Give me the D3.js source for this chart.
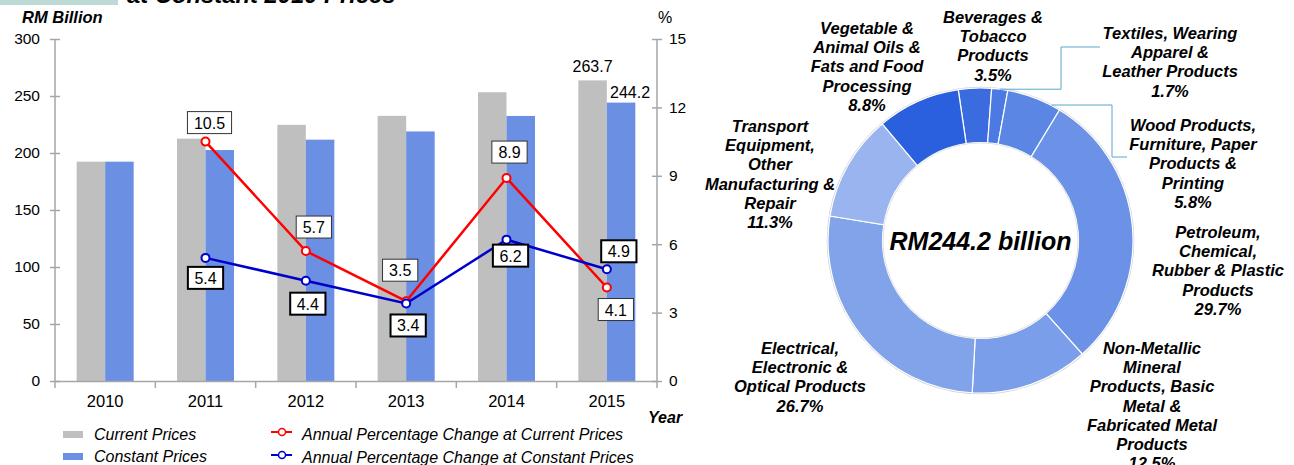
<!DOCTYPE html>
<html>
<head>
<meta charset="utf-8">
<script src="https://cdn.jsdelivr.net/npm/d3@7"></script>
<style>
  body { margin: 0; background: #fff; }
  text { font-family: "Liberation Sans", Arial, sans-serif; }
</style>
</head>
<body>
<script>
// ---- data ----
var years = ["2010", "2011", "2012", "2013", "2014", "2015"];
var currentPrices = [192.4, 212.6, 224.7, 232.6, 253.3, 263.7];
var constantPrices = [192.4, 202.6, 211.7, 218.9, 232.5, 244.2];
var pctCurrent = [null, 10.5, 5.7, 3.5, 8.9, 4.1];
var pctConstant = [null, 5.4, 4.4, 3.4, 6.2, 4.9];
var leftTicks = [0, 50, 100, 150, 200, 250, 300];
var rightTicks = [0, 3, 6, 9, 12, 15];

var sectors = [
  ["Beverages &", "Tobacco", "Products"],
  ["Textiles, Wearing", "Apparel &", "Leather Products"],
  ["Wood Products,", "Furniture, Paper", "Products &", "Printing"],
  ["Petroleum,", "Chemical,", "Rubber & Plastic", "Products"],
  ["Non-Metallic", "Mineral", "Products, Basic", "Metal &", "Fabricated Metal", "Products"],
  ["Electrical,", "Electronic &", "Optical Products"],
  ["Transport", "Equipment,", "Other", "Manufacturing &", "Repair"],
  ["Vegetable &", "Animal Oils &", "Fats and Food", "Processing"]
];
var shares = [3.5, 1.7, 5.8, 29.7, 12.5, 26.7, 11.3, 8.8];
var totalLabel = "RM244.2 billion";

// ---- layout / styles ----
var W = 1294, H = 465;
var grey = "#bfbfbf", blue = "#6a8fe3";
var axisCol = "#a6a6a6";
var fs = "16px";
var sliceCols = ["#3a6ce0", "#4c7ae2", "#5b86e4", "#6b92e6", "#7a9ee9", "#80a3ea", "#99b4ef", "#2a60dd"];
// label positions (center x, first line y)
var labelPos = [[993, 23], [1170, 39], [1193, 131], [1218, 238], [1152, 354], [800, 354], [770, 132], [867, 34]];
var lineH = 19.2;
// pct-label box offsets [dx, dy] from point
var curOff = [null, [4, -19], [8, -24], [-6, -31], [3, -26], [9, 22]];
var conOff = [null, [0, 20], [2, 23], [2, 22], [4, 16], [12, -18]];

var svg = d3.select("body").append("svg")
  .attr("width", W).attr("height", H);

// title fragment (cut at the top)
svg.append("rect").attr("x", 0).attr("y", -20).attr("width", 118).attr("height", 25).attr("fill", "#bddad4");
svg.append("text").attr("x", 127).attr("y", 3)
  .style("font-size", "23.8px").style("font-weight", "bold").style("font-style", "italic")
  .text("at Constant 2010 Prices");

// ---- bar chart ----
var m = {left: 55, right: 657, top: 39, bottom: 381};
var x = d3.scaleBand().domain(years).range([m.left, m.right]).padding(0);
var x1 = d3.scaleBand().domain(["cur", "con"]).range([0, x.bandwidth()]).paddingOuter(0.76).paddingInner(0);
var yL = d3.scaleLinear().domain([0, 300]).range([m.bottom, m.top]);
var yR = d3.scaleLinear().domain([0, 15]).range([m.bottom, m.top]);

var g = svg.append("g");

years.forEach(function(yr, i) {
  g.append("rect").attr("x", x(yr) + x1("cur")).attr("width", x1.bandwidth())
    .attr("y", yL(currentPrices[i])).attr("height", yL(0) - yL(currentPrices[i]))
    .attr("fill", grey);
  g.append("rect").attr("x", x(yr) + x1("con")).attr("width", x1.bandwidth())
    .attr("y", yL(constantPrices[i])).attr("height", yL(0) - yL(constantPrices[i]))
    .attr("fill", blue);
});

// value labels on 2015
var last = years.length - 1;
g.append("text").attr("x", x(years[last]) + x1("cur") + x1.bandwidth() / 2)
  .attr("y", yL(currentPrices[last]) - 8).attr("text-anchor", "middle")
  .style("font-size", fs).text(currentPrices[last].toFixed(1));
g.append("text").attr("x", x(years[last]) + x1("con") + x1.bandwidth() / 2 + 9)
  .attr("y", yL(constantPrices[last]) - 5).attr("text-anchor", "middle")
  .style("font-size", fs).text(constantPrices[last].toFixed(1));

// axes
var axL = d3.axisLeft(yL).tickValues(leftTicks).tickSize(5).tickPadding(10);
var gl = svg.append("g").attr("transform", "translate(" + m.left + ",0)").call(axL);
gl.selectAll(".tick line").attr("x1", -5).attr("x2", 5);
var axR = d3.axisRight(yR).tickValues(rightTicks).tickSize(5).tickPadding(7);
var gr = svg.append("g").attr("transform", "translate(" + m.right + ",0)").call(axR);
gr.selectAll(".tick line").attr("x1", -5).attr("x2", 5);
[gl, gr].forEach(function(a) {
  a.select(".domain").attr("stroke", axisCol).attr("stroke-width", 1.5).attr("d",
    "M0," + m.top + "V" + m.bottom);
  a.selectAll(".tick line").attr("stroke", axisCol).attr("stroke-width", 1.5);
  a.selectAll("text").style("font-size", "15.5px").attr("fill", "#000").style("font-family", "Liberation Sans, Arial, sans-serif");
});

var axB = d3.axisBottom(x).tickSize(0).tickPadding(14);
var gb = svg.append("g").attr("transform", "translate(0," + m.bottom + ")").call(axB);
gb.select(".domain").attr("stroke", axisCol).attr("stroke-width", 1.5);
gb.selectAll("text").style("font-size", "16.5px").attr("fill", "#000").style("font-family", "Liberation Sans, Arial, sans-serif");
years.concat([null]).forEach(function(yr) {
  var xx = yr ? x(yr) : x.range()[1];
  gb.append("line").attr("x1", xx).attr("x2", xx).attr("y1", 0).attr("y2", 7)
    .attr("stroke", axisCol).attr("stroke-width", 1.5);
});

svg.append("text").attr("x", 22).attr("y", 23)
  .style("font-size", "16.5px").style("font-weight", "bold").style("font-style", "italic").text("RM Billion");
svg.append("text").attr("x", 665).attr("y", 23).attr("text-anchor", "middle")
  .style("font-size", fs).text("%");
svg.append("text").attr("x", 648).attr("y", 423)
  .style("font-size", fs).style("font-weight", "bold").style("font-style", "italic").text("Year");

// lines
function drawLine(vals, col) {
  var pts = [];
  vals.forEach(function(v, i) { if (v != null) pts.push({x: x(years[i]) + x.bandwidth() / 2, v: v, i: i}); });
  var line = d3.line().x(function(d) { return d.x; }).y(function(d) { return yR(d.v); });
  g.append("path").datum(pts).attr("d", line).attr("fill", "none")
    .attr("stroke", col).attr("stroke-width", 2.5);
  g.selectAll(null).data(pts).enter().append("circle")
    .attr("cx", function(d) { return d.x; }).attr("cy", function(d) { return yR(d.v); })
    .attr("r", 4).attr("fill", "#fff").attr("stroke", col).attr("stroke-width", 2);
  return pts;
}
var redPts = drawLine(pctCurrent, "#ff0000");
var bluePts = drawLine(pctConstant, "#0000cc");

function drawBoxes(pts, offs, thick) {
  pts.forEach(function(d) {
    var cx = d.x + offs[d.i][0], cy = yR(d.v) + offs[d.i][1];
    var r = svg.append("rect");
    var t = svg.append("text").attr("x", cx).attr("y", cy + 6).attr("text-anchor", "middle")
      .style("font-size", fs).text(d.v.toFixed(1));
    var tw = t.node().getComputedTextLength() + 13;
    r.attr("x", cx - tw / 2).attr("y", cy - 11).attr("width", tw).attr("height", 22)
      .attr("fill", "#fff").attr("stroke", thick ? "#000" : "#333").attr("stroke-width", thick ? 2 : 1);
  });
}
drawBoxes(redPts, curOff, false);
drawBoxes(bluePts, conOff, true);

// legend
var lg = svg.append("g").style("font-size", fs).style("font-style", "italic");
lg.append("rect").attr("x", 63).attr("y", 431).attr("width", 20).attr("height", 7).attr("fill", grey);
lg.append("text").attr("x", 94).attr("y", 440).text("Current Prices");
lg.append("rect").attr("x", 63).attr("y", 453).attr("width", 20).attr("height", 7).attr("fill", blue);
lg.append("text").attr("x", 94).attr("y", 462).text("Constant Prices");
[["#ff0000", 432, "Annual Percentage Change at Current Prices"],
 ["#0000cc", 455, "Annual Percentage Change at Constant Prices"]].forEach(function(l) {
  lg.append("line").attr("x1", 271).attr("x2", 292).attr("y1", l[1]).attr("y2", l[1])
    .attr("stroke", l[0]).attr("stroke-width", 2);
  lg.append("circle").attr("cx", 282).attr("cy", l[1]).attr("r", 3.5)
    .attr("fill", "#fff").attr("stroke", l[0]).attr("stroke-width", 1.5);
  lg.append("text").attr("x", 302).attr("y", l[1] + 8).text(l[2]);
});

// ---- donut ----
var cx = 980.5, cy = 240.5, rOut = 152.5, rIn = 98;
var start = -8.4 * Math.PI / 180;
var pie = d3.pie().sort(null).value(function(d) { return d; })
  .startAngle(start).endAngle(start + 2 * Math.PI);
var arcs = pie(shares);
var arc = d3.arc().innerRadius(rIn).outerRadius(rOut);
var dg = svg.append("g").attr("transform", "translate(" + cx + "," + cy + ")");
dg.append("circle").attr("r", rOut + 0.5).attr("fill", "none").attr("stroke", "#cfcfcf").attr("stroke-width", 1.5);
dg.selectAll("path").data(arcs).enter().append("path")
  .attr("d", arc).attr("fill", function(d, i) { return sliceCols[i]; })
  .attr("stroke", "#fff").attr("stroke-width", 1.2);
dg.append("circle").attr("r", rIn - 0.5).attr("fill", "none").attr("stroke", "#e2e2e2").attr("stroke-width", 1);
dg.append("text").attr("x", 0).attr("y", 9).attr("text-anchor", "middle")
  .style("font-size", "25px").style("font-weight", "bold").style("font-style", "italic").text(totalLabel);

// leader lines for the thin slices (textiles, wood)
function arcPoint(a) { return [cx + rOut * Math.sin(a), cy - rOut * Math.cos(a)]; }
var tA = arcs[1], wA = arcs[2];
var p1 = arcPoint((tA.startAngle + tA.endAngle) / 2);
svg.append("path").attr("fill", "none").attr("stroke", "#5ba8c8").attr("stroke-width", 1)
  .attr("d", "M" + p1[0] + "," + p1[1] + "H1061V47H1100");
var p2 = arcPoint(wA.startAngle + 0.85 * (wA.endAngle - wA.startAngle));
svg.append("path").attr("fill", "none").attr("stroke", "#5ba8c8").attr("stroke-width", 1)
  .attr("d", "M" + p2[0] + "," + p2[1] + "V105H1112V157H1127");

sectors.forEach(function(lines, i) {
  var t = svg.append("text").attr("text-anchor", "middle")
    .style("font-size", "16.5px").style("font-weight", "bold").style("font-style", "italic");
  lines.concat([shares[i].toFixed(1) + "%"]).forEach(function(s, k) {
    t.append("tspan").attr("x", labelPos[i][0]).attr("y", labelPos[i][1] + k * lineH).text(s);
  });
});
</script>
</body>
</html>
